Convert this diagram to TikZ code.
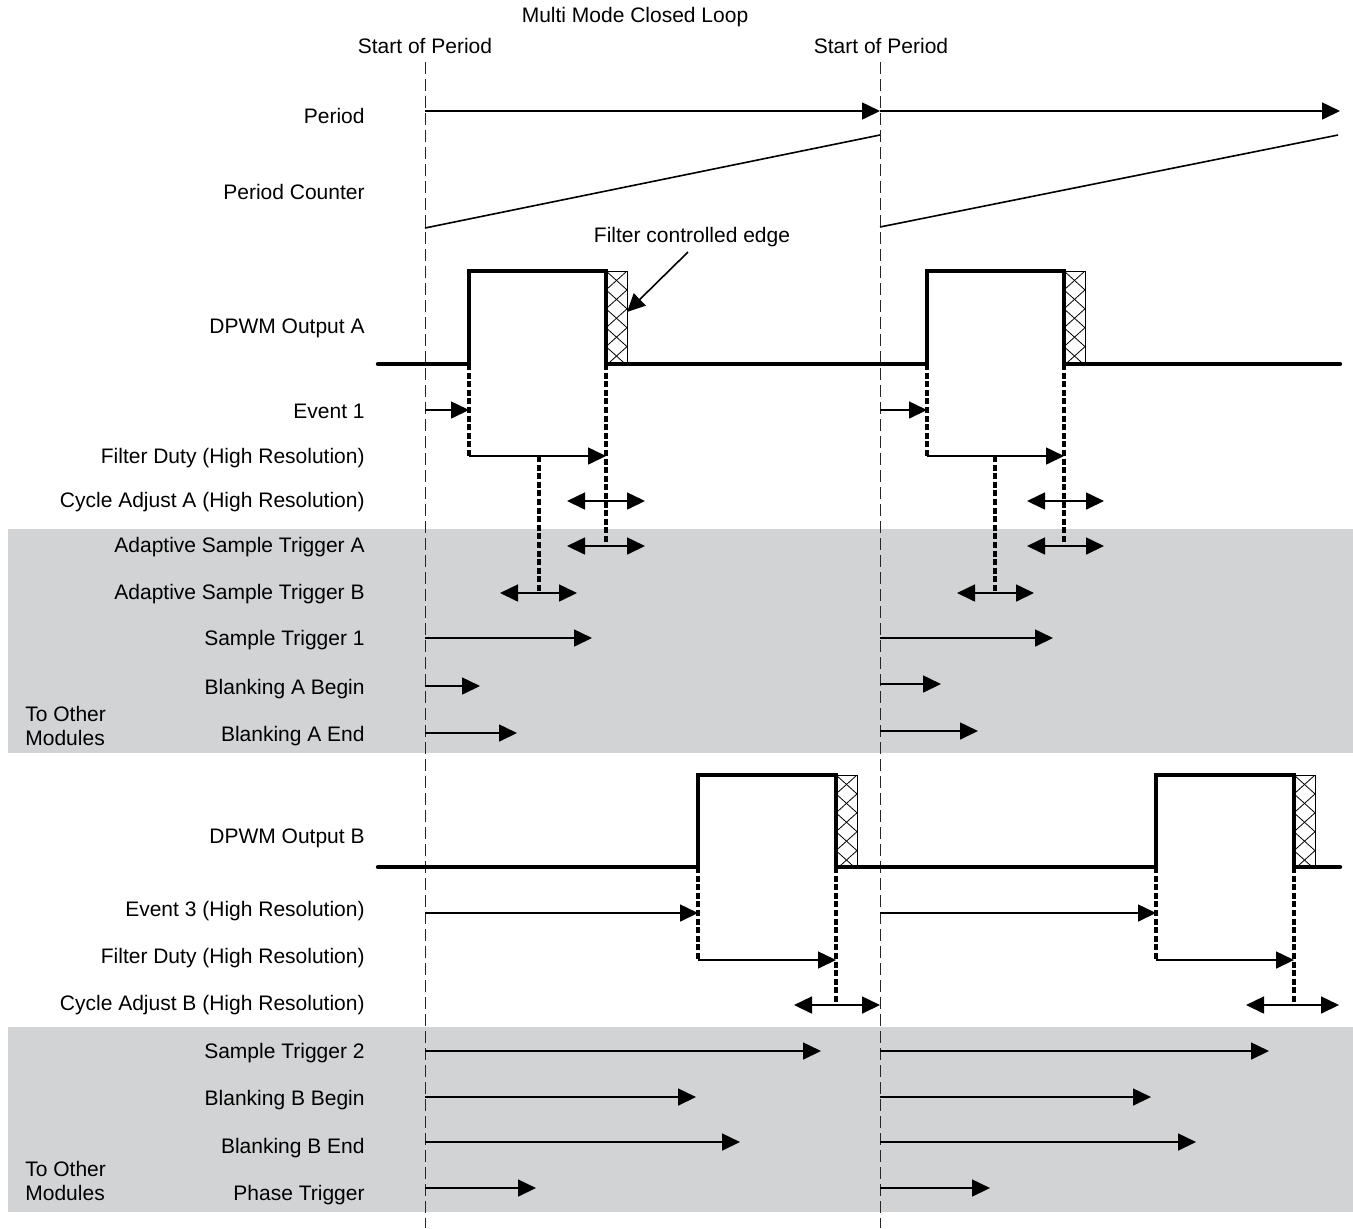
\documentclass[tikz,border=0pt]{standalone}
\usepackage{fontspec}
\setmainfont{Liberation Sans}
\usetikzlibrary{arrows.meta}
\definecolor{bandgray}{RGB}{209,211,212}
\newcommand\lblfont{\fontsize{10.5}{12.5}\selectfont}
\newcommand\HatchBox[2]{%
  \begin{scope}
    \clip (#1,#2) rectangle (#1+21,#2+93);
    \foreach \k in {-5,...,6}{
      \draw[hatchln] (#1+\k*21,#2) -- ++(110,99);
      \draw[hatchln] (#1+\k*21,#2) -- ++(-110,99);
    }
  \end{scope}
  \draw[line width=0.5pt] (#1,#2) rectangle (#1+21,#2+93);
}
\tikzset{
  tip/.tip={Triangle[length=9pt,width=8.5pt]},
  lbl/.style={font=\lblfont, anchor=base east, inner sep=0pt},
  lblw/.style={font=\lblfont, anchor=base west, inner sep=0pt},
  lblc/.style={font=\lblfont, anchor=base, inner sep=0pt},
  sig/.style={line width=2.2pt, line cap=round, line join=miter},
  arr/.style={line width=0.8pt, -tip},
  darr/.style={line width=0.8pt, tip-tip},
  tdash/.style={line width=1.8pt, dash pattern=on 3pt off 1.3pt},
  pdash/.style={line width=0.5pt, dash pattern=on 6pt off 2.5pt, black!85},
  band/.style={fill=bandgray, draw=none},
  hatchln/.style={line width=0.4pt},
  ramp/.style={line width=0.8pt},
}
\begin{document}
\begin{tikzpicture}[x=0.5pt,y=-0.5pt]
\useasboundingbox (0,0) rectangle (1353,1228);
% gray bands
\fill[band] (8,529) rectangle (1353,753);
\fill[band] (8,1027) rectangle (1353,1212);
% period dashed lines
\draw[pdash] (425,62) -- (425,1228);
\draw[pdash] (880,62) -- (880,1228);

% titles
\node[lblc] (title) at (635,22) {Multi Mode Closed Loop};
\node[lblc] (sop1) at (425,53) {Start of Period};
\node[lblc] (sop2) at (881,53) {Start of Period};

% labels
\node[lbl] (lperiod) at (365,123) {Period};
\node[lbl] (lcounter) at (365,199) {Period Counter};
\node[lbl] (ldpwma) at (365,333) {DPWM Output A};
\node[lbl] (levent1) at (365,418) {Event 1};
\node[lbl] (lfda) at (365,463) {Filter Duty (High Resolution)};
\node[lbl] (lcaa) at (365,507) {Cycle Adjust A (High Resolution)};
\node[lbl] (lasta) at (365,552) {Adaptive Sample Trigger A};
\node[lbl] (lastb) at (365,599) {Adaptive Sample Trigger B};
\node[lbl] (lst1) at (365,645) {Sample Trigger 1};
\node[lbl] (lbab) at (365,694) {Blanking A Begin};
\node[lbl] (lbae) at (365,741) {Blanking A End};
\node[lblw] (toa1) at (25,721) {To Other};
\node[lblw] (toa2) at (25,745) {Modules};
\node[lbl] (ldpwmb) at (365,843) {DPWM Output B};
\node[lbl] (levent3) at (365,916) {Event 3 (High Resolution)};
\node[lbl] (lfdb) at (365,963) {Filter Duty (High Resolution)};
\node[lbl] (lcab) at (365,1010) {Cycle Adjust B (High Resolution)};
\node[lbl] (lst2) at (365,1058) {Sample Trigger 2};
\node[lbl] (lbbb) at (365,1105) {Blanking B Begin};
\node[lbl] (lbbe) at (365,1153) {Blanking B End};
\node[lblw] (tob1) at (25,1176) {To Other};
\node[lblw] (tob2) at (25,1200) {Modules};
\node[lbl] (lphase) at (365,1200) {Phase Trigger};
\node[lblc] (lfce) at (692,242) {Filter controlled edge};

% period arrows
\draw[arr] (425,111) -- (880,111);
\draw[arr] (880,111) -- (1340,111);
% period counter
\draw[ramp] (425,228) -- (880,135);
\draw[ramp] (880,227) -- (1338,135);

% DPWM A
\HatchBox{606}{271}
\HatchBox{1064}{271}
\draw[sig] (378,364) -- (469,364) -- (469,271) -- (606,271) -- (606,364) -- (927,364) -- (927,271) -- (1064,271) -- (1064,364) -- (1340,364);
\coordinate (fcetip) at (627,312);
\draw[arr] (688,252) -- (fcetip);

% A dashed verticals
\draw[tdash] (469,364) -- (469,456);
\draw[tdash] (606,364) -- (606,546);
\draw[tdash] (539,456) -- (539,593);
\draw[tdash] (927,364) -- (927,456);
\draw[tdash] (1064,364) -- (1064,546);
\draw[tdash] (995,456) -- (995,593);

% A arrows
\draw[arr] (425,410) -- (469,410);
\draw[arr] (880,410) -- (927,410);
\draw[arr] (469,456) -- (606,456);
\draw[arr] (927,456) -- (1064,456);
\draw[darr] (567,501) -- (645,501);
\draw[darr] (1027,501) -- (1104,501);
\draw[darr] (567,546) -- (645,546);
\draw[darr] (1027,546) -- (1104,546);
\draw[darr] (500,593) -- (577,593);
\draw[darr] (957,593) -- (1034,593);
\draw[arr] (425,638) -- (592,638);
\draw[arr] (880,638) -- (1053,638);
\draw[arr] (425,686) -- (480,686);
\draw[arr] (880,684) -- (941,684);
\draw[arr] (425,733) -- (517,733);
\draw[arr] (880,731) -- (978,731);

% DPWM B
\HatchBox{836}{775}
\HatchBox{1294}{775}
\draw[sig] (378,867) -- (698,867) -- (698,775) -- (836,775) -- (836,867) -- (1156,867) -- (1156,775) -- (1294,775) -- (1294,867) -- (1340,867);

% B dashed verticals
\draw[tdash] (698,867) -- (698,960);
\draw[tdash] (836,867) -- (836,1005);
\draw[tdash] (1156,867) -- (1156,960);
\draw[tdash] (1294,867) -- (1294,1005);

% B arrows
\draw[arr] (425,913) -- (698,913);
\draw[arr] (880,913) -- (1156,913);
\draw[arr] (698,960) -- (836,960);
\draw[arr] (1156,960) -- (1294,960);
\draw[darr] (794,1005) -- (880,1005);
\draw[darr] (1246,1005) -- (1339,1005);
\draw[arr] (425,1051) -- (821,1051);
\draw[arr] (880,1051) -- (1269,1051);
\draw[arr] (425,1097) -- (696,1097);
\draw[arr] (880,1097) -- (1151,1097);
\draw[arr] (425,1142) -- (740,1142);
\draw[arr] (880,1142) -- (1196,1142);
\draw[arr] (425,1188) -- (536,1188);
\draw[arr] (880,1188) -- (990,1188);
\end{tikzpicture}
\end{document}
